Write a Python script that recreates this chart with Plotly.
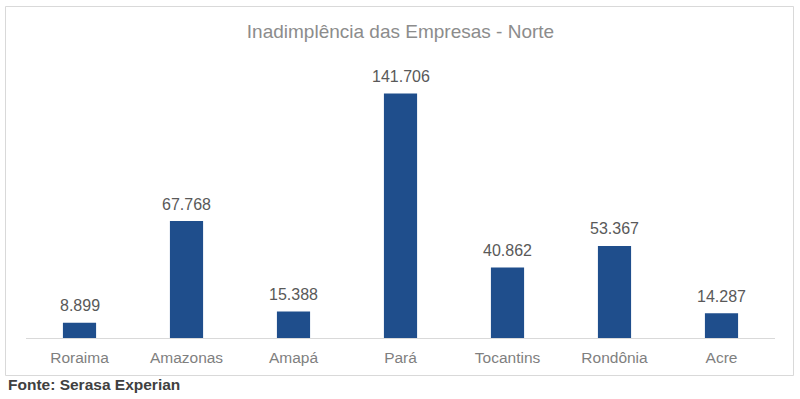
import plotly.graph_objects as go

estados = ["Roraima", "Amazonas", "Amapá", "Pará", "Tocantins", "Rondônia", "Acre"]
valores = [8899, 67768, 15388, 141706, 40862, 53367, 14287]
titulo = "Inadimplência das Empresas - Norte"
fonte = "Fonte: Serasa Experian"

W, H = 800, 399
L, R, T, B = 26, 25, 62, 61
pw = W - L - R
ph = H - T - B
FONT = "Liberation Sans, Arial"

def px(x):
    return (x - L) / pw

def py(y):
    return (H - B - y) / ph

fig = go.Figure(go.Bar(
    x=estados, y=valores,
    marker=dict(color="#1f4e8c", line=dict(width=0)),
    width=0.31,
    hoverinfo="x+y",
))

anns = []
for e, v in zip(estados, valores):
    anns.append(dict(x=e, y=v, xref="x", yref="y", text=f"{v:,}".replace(",", "."),
                     showarrow=False, yanchor="middle", yshift=17,
                     font=dict(family=FONT, size=16, color="#595959")))
anns.append(dict(text="<b>" + fonte + "</b>", xref="paper", yref="paper",
                 x=px(6), y=py(384), xanchor="left", yanchor="middle",
                 showarrow=False,
                 font=dict(family=FONT, size=15.5, color="#404040")))

fig.update_layout(
    width=W, height=H,
    margin=dict(l=L, r=R, t=T, b=B),
    paper_bgcolor="white", plot_bgcolor="white",
    separators=",.",
    showlegend=False,
    title=dict(text=titulo, x=(L + pw / 2) / W, xanchor="center",
               y=1 - 31 / H, yanchor="middle",
               font=dict(family=FONT, size=19, color="#8c8c8c")),
    xaxis=dict(showline=True, linecolor="#d9d9d9", linewidth=1, ticks="",
               ticklabelstandoff=5,
               tickfont=dict(family=FONT, size=15.5, color="#7f7f7f"),
               showgrid=False),
    yaxis=dict(range=[0, 160000], visible=False, showgrid=False),
    shapes=[dict(type="rect", xref="paper", yref="paper",
                 x0=px(5.5), x1=px(793.5), y0=py(375.5), y1=py(6.5),
                 line=dict(color="#d9d9d9", width=1))],
    annotations=anns,
)

fig.write_html("out.html", config={"displayModeBar": False},
               post_script="document.body.style.margin='0';document.body.style.overflow='hidden';")
